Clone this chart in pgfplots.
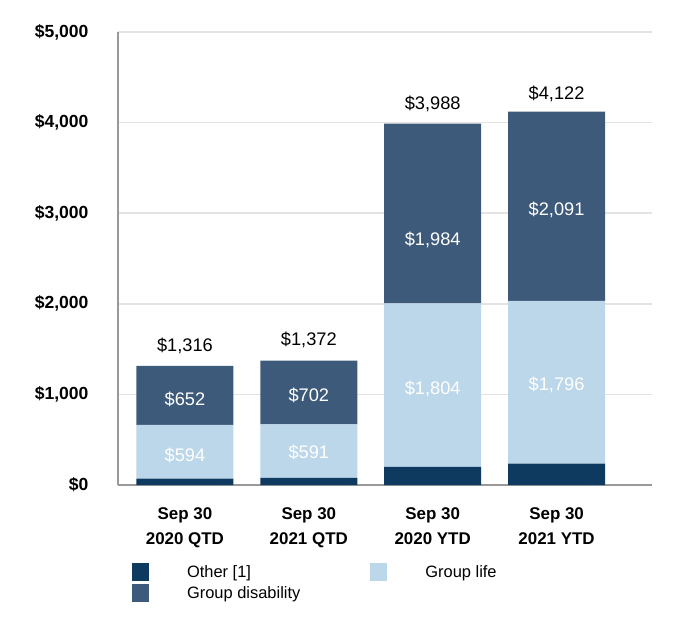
\documentclass[border=0pt]{standalone}
\usepackage{pgfplots}
\pgfplotsset{compat=1.18}
\usepackage{fontspec}
\setmainfont{Liberation Sans}
\definecolor{cother}{HTML}{0F3A5F}
\definecolor{clife}{HTML}{BCD6EA}
\definecolor{cdis}{HTML}{3D5A7A}
\definecolor{cgrid}{HTML}{E3E3E3}
\definecolor{caxis}{HTML}{999999}
\tikzset{vlab/.style={font=\fontsize{18.3}{20}\selectfont, anchor=center}}
\begin{document}
\begin{tikzpicture}
\path[use as bounding box] (-118bp,-141bp) rectangle (562bp,485bp);
\begin{axis}[
  at={(0,0)}, anchor=south west,
  scale only axis, width=534bp, height=453bp,
  ybar stacked, bar width=97bp,
  xmin=-0.54, xmax=3.77, ymin=0, ymax=5000,
  xtick={0,1,2,3},
  xticklabels={{Sep 30\\2020 QTD},{Sep 30\\2021 QTD},{Sep 30\\2020 YTD},{Sep 30\\2021 YTD}},
  xticklabel style={font=\bfseries\fontsize{17}{25}\selectfont, align=center, yshift=-19bp},
  ytick={0,1000,2000,3000,4000,5000},
  yticklabels={\$0,{\$1,000},{\$2,000},{\$3,000},{\$4,000},{\$5,000}},
  yticklabel style={font=\bfseries\fontsize{17.6}{20}\selectfont, xshift=-26bp},
  major tick length=0pt,
  axis x line*=bottom, axis y line*=left,
  axis line style={caxis, line width=1.6bp, -},
  ymajorgrids, grid style={cgrid, line width=1.6bp},
  legend columns=2,
  legend cell align=left,
  legend style={at={(axis description cs:0.026,-0.172)}, anchor=north west,
    draw=none, fill=none, inner sep=0pt,
    font=\fontsize{16.5}{20}\selectfont,
    nodes={inner xsep=0pt, inner ysep=1bp},
    row sep=3bp,
    /tikz/every even column/.append style={column sep=70bp}},
  legend image code/.code={\fill[#1, draw=none] (0bp,-9bp) rectangle (17bp,9bp); \path[draw=none, fill=none] (0bp,0bp) -- (55bp,0bp);},
]
\addplot[fill=cother, draw=none] coordinates {(0,70) (1,79) (2,200) (3,235)};
\addlegendentry{Other [1]}
\addplot[fill=clife, draw=none] coordinates {(0,594) (1,591) (2,1804) (3,1796)};
\addlegendentry{Group life}
\addplot[fill=cdis, draw=none] coordinates {(0,652) (1,702) (2,1984) (3,2091)};
\addlegendentry{Group disability}
\coordinate (l1) at (axis cs:0,325);
\coordinate (l2) at (axis cs:0,940);
\coordinate (l3) at (axis cs:1,355);
\coordinate (l4) at (axis cs:1,985);
\coordinate (l5) at (axis cs:2,1060);
\coordinate (l6) at (axis cs:2,2700);
\coordinate (l7) at (axis cs:3,1105);
\coordinate (l8) at (axis cs:3,3040);
\coordinate (t1) at (axis cs:0,1534);
\coordinate (t2) at (axis cs:1,1600);
\coordinate (t3) at (axis cs:2,4205);
\coordinate (t4) at (axis cs:3,4316);
\end{axis}
\node[vlab, white] at (l1) {\$594};
\node[vlab, white] at (l2) {\$652};
\node[vlab, white] at (l3) {\$591};
\node[vlab, white] at (l4) {\$702};
\node[vlab, white] at (l5) {\$1,804};
\node[vlab, white] at (l6) {\$1,984};
\node[vlab, white] at (l7) {\$1,796};
\node[vlab, white] at (l8) {\$2,091};
\node[vlab] at (t1) {\$1,316};
\node[vlab] at (t2) {\$1,372};
\node[vlab] at (t3) {\$3,988};
\node[vlab] at (t4) {\$4,122};
\end{tikzpicture}
\end{document}
